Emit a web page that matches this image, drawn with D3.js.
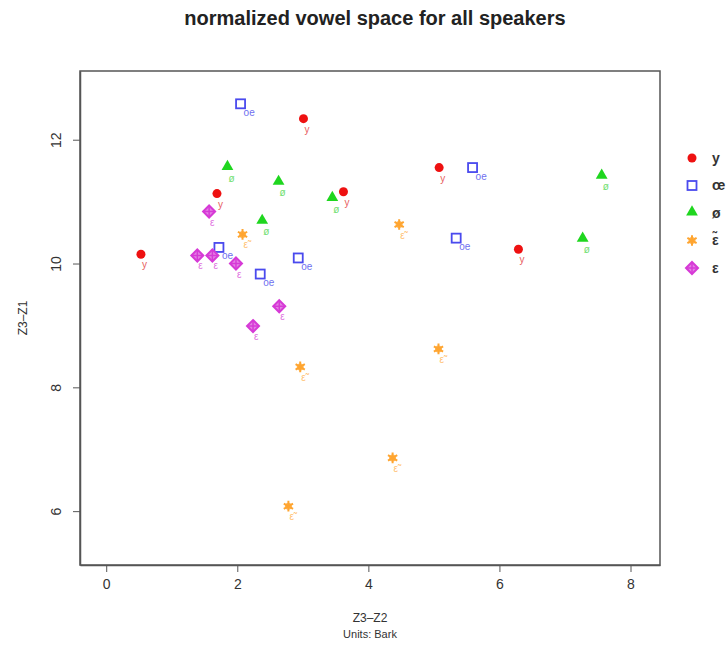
<!DOCTYPE html>
<html>
<head>
<meta charset="utf-8">
<script src="https://cdn.jsdelivr.net/npm/d3@7"></script>
<style>
  body { margin: 0; background: #fff; }
  text { font-family: "Liberation Sans", Arial, Helvetica, sans-serif; }
</style>
</head>
<body>
<div id="chart"></div>
<script>
// vowel categories, legend order
const vowels = ["y", "oe", "ø", "ẽ", "ε"]
const legendLabels = ["y", "œ", "ø", "ε̃", "ε"]
const pointLabels = ["y", "oe", "ø", "ε̃", "ε"]
const colors = ["#ee1111", "#4a4aee", "#1fd61f", "#ffa530", "#d63ad6"]
const labelColors = ["#e86060", "#7070f0", "#70e070", "#ffbf70", "#e070e0"]

// Z3-Z2 (x) and Z3-Z1 (y) per vowel, in Bark
const yX = [0.53, 1.69, 3.01, 3.62, 5.08, 6.29]
const yY = [10.15, 11.13, 12.34, 11.16, 11.55, 10.23]

const oeX = [2.05, 1.72, 2.35, 2.93, 5.34, 5.59]
const oeY = [12.58, 10.26, 9.83, 10.09, 10.41, 11.55]

const oslX = [1.85, 2.63, 3.45, 2.38, 7.27, 7.56]
const oslY = [11.55, 11.31, 11.05, 10.68, 10.39, 11.41]

const enX = [2.08, 4.47, 2.96, 5.07, 4.37, 2.78]
const enY = [10.47, 10.63, 8.33, 8.62, 6.86, 6.08]

const epX = [1.57, 1.39, 1.62, 1.98, 2.64, 2.24]
const epY = [10.84, 10.13, 10.13, 10.0, 9.31, 8.99]

const xTicks = [0, 2, 4, 6, 8]
const yTicks = [6, 8, 10, 12]

const allX = [yX, oeX, oslX, enX, epX]
const allY = [yY, oeY, oslY, enY, epY]

let points = []
vowels.forEach((v, vi) => {
    allX[vi].forEach((x, i) => {
        points.push({ vowel: vi, x: x, y: allY[vi][i] })
    })
})

const W = 728, H = 645
const plot = { left: 80, right: 660, top: 71, bottom: 565 }

const svg = d3.select("#chart").append("svg")
    .attr("width", W)
    .attr("height", H)

const x = d3.scaleLinear().domain([-0.40, 8.45]).range([plot.left, plot.right])
const y = d3.scaleLinear().domain([5.13, 13.11]).range([plot.bottom, plot.top])

// title
svg.append("text")
    .attr("x", 375).attr("y", 25)
    .attr("text-anchor", "middle")
    .style("font-size", "20px")
    .style("font-weight", "bold")
    .attr("fill", "#222")
    .text("normalized vowel space for all speakers")

// box
svg.append("rect")
    .attr("x", plot.left).attr("y", plot.top)
    .attr("width", plot.right - plot.left)
    .attr("height", plot.bottom - plot.top)
    .attr("fill", "none")
    .attr("stroke", "#555")
    .attr("stroke-width", 1.5)

// x axis
const xAxis = svg.append("g")
    .attr("transform", "translate(0," + plot.bottom + ")")
    .call(d3.axisBottom(x).tickValues(xTicks).tickSize(7).tickSizeOuter(0).tickPadding(7))
xAxis.select(".domain").attr("stroke", "#555").attr("stroke-width", 1.5)
xAxis.selectAll(".tick line").attr("stroke", "#555")
xAxis.selectAll("text").style("font-size", "14px").attr("fill", "#333")

// y axis, labels rotated like R
const yAxis = svg.append("g")
    .attr("transform", "translate(" + plot.left + ",0)")
    .call(d3.axisLeft(y).tickValues(yTicks).tickSize(7).tickSizeOuter(0).tickPadding(0))
yAxis.select(".domain").attr("stroke", "#555").attr("stroke-width", 1.5)
yAxis.selectAll(".tick line").attr("stroke", "#555")
yAxis.selectAll("text")
    .attr("x", null).attr("dy", null)
    .attr("transform", "translate(-24,0) rotate(-90)")
    .attr("text-anchor", "middle")
    .attr("dy", "0.35em")
    .style("font-size", "14px")
    .attr("fill", "#333")

// axis titles
svg.append("text")
    .attr("x", (plot.left + plot.right) / 2).attr("y", 622)
    .attr("text-anchor", "middle")
    .style("font-size", "12px").attr("fill", "#333")
    .text("Z3–Z2")
svg.append("text")
    .attr("x", (plot.left + plot.right) / 2).attr("y", 638)
    .attr("text-anchor", "middle")
    .style("font-size", "11px").attr("fill", "#333")
    .text("Units: Bark")
svg.append("text")
    .attr("transform", "translate(27," + (plot.top + plot.bottom) / 2 + ") rotate(-90)")
    .attr("text-anchor", "middle")
    .style("font-size", "12px").attr("fill", "#333")
    .text("Z3–Z1")

// draw one marker of a vowel type into a group
function drawMarker(g, vi) {
    const c = colors[vi]
    if (vi === 0) {
        g.append("circle").attr("r", 4.5).attr("fill", c)
    } else if (vi === 1) {
        g.append("rect").attr("x", -4.5).attr("y", -4.5).attr("width", 9).attr("height", 9)
            .attr("fill", "none").attr("stroke", c).attr("stroke-width", 1.8)
    } else if (vi === 2) {
        g.append("path").attr("d", d3.symbol(d3.symbolTriangle, 60)())
            .attr("transform", "translate(0,-1)")
            .attr("fill", c)
    } else if (vi === 3) {
        g.append("circle").attr("r", 3.5).attr("fill", c).attr("opacity", 0.8)
        g.append("path").attr("d", d3.symbol(d3.symbolAsterisk, 80)())
            .attr("fill", "none").attr("stroke", c).attr("stroke-width", 2)
    } else {
        g.append("path").attr("d", "M0,-6L6,0L0,6L-6,0Z")
            .attr("fill", "#e480e4").attr("stroke", c).attr("stroke-width", 2)
        g.append("path").attr("d", "M0,-6V6M-6,0H6")
            .attr("stroke", c).attr("stroke-width", 1.5)
    }
}

// points
const pts = svg.append("g").selectAll("g.pt")
    .data(points)
    .enter()
    .append("g")
    .attr("class", "pt")
    .attr("transform", d => "translate(" + x(d.x) + "," + y(d.y) + ")")

pts.each(function (d) { drawMarker(d3.select(this), d.vowel) })

// little labels below right of each point
pts.append("text")
    .attr("x", d => d.vowel === 1 ? 3 : 1)
    .attr("y", d => d.vowel === 1 ? 12 : 14)
    .style("font-size", "10px")
    .attr("fill", d => labelColors[d.vowel])
    .text(d => pointLabels[d.vowel])

// legend, outside the box on the right
const leg = svg.append("g")
vowels.forEach((v, vi) => {
    const ly = 158 + vi * 27.5
    const g = leg.append("g").attr("transform", "translate(692," + ly + ")")
    drawMarker(g, vi)
    leg.append("text")
        .attr("x", 712).attr("y", ly)
        .attr("dy", "0.35em")
        .style("font-size", "14px")
        .style("font-weight", "bold")
        .attr("fill", "#333")
        .text(legendLabels[vi])
})
</script>
</body>
</html>
